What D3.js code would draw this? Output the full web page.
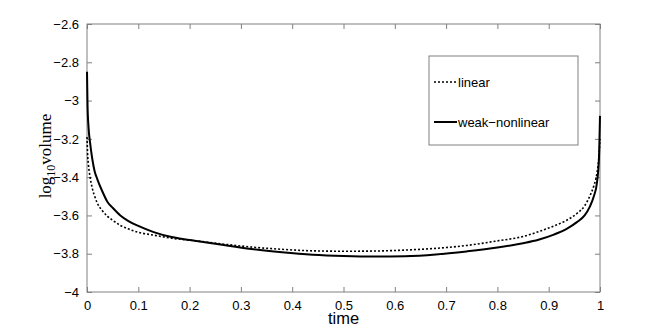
<!DOCTYPE html>
<html>
<head>
<meta charset="utf-8">
<script src="https://cdn.jsdelivr.net/npm/d3@7"></script>
<style>
  body { margin: 0; background: #fff; }
  text { font-family: "Liberation Sans", Arial, sans-serif; }
</style>
</head>
<body>
<svg id="chart" width="664" height="328"></svg>
<script>
// time samples (dense near both ends where curves blow up)
var times = [0, 0.001, 0.003, 0.006, 0.01, 0.015, 0.02, 0.03, 0.04, 0.05, 0.065, 0.08, 0.1, 0.13, 0.165,
             0.21, 0.26, 0.32, 0.38, 0.44, 0.5, 0.56, 0.62, 0.68, 0.74, 0.8, 0.85, 0.88, 0.91, 0.935,
             0.955, 0.97, 0.98, 0.988, 0.994, 0.998, 1];
var linear = [-3.19, -3.27, -3.34, -3.40, -3.455, -3.50, -3.535, -3.575, -3.605, -3.625, -3.652, -3.67, -3.688, -3.703, -3.719,
              -3.732, -3.748, -3.765, -3.777, -3.785, -3.787, -3.786, -3.781, -3.772, -3.757, -3.733, -3.71, -3.685, -3.655, -3.625,
              -3.59, -3.55, -3.50, -3.445, -3.38, -3.29, -3.2];
var weakNonlinear = [-2.85, -3.02, -3.14, -3.22, -3.30, -3.37, -3.41, -3.475, -3.53, -3.56, -3.60, -3.628, -3.655, -3.687, -3.713,
                     -3.732, -3.752, -3.775, -3.792, -3.805, -3.812, -3.815, -3.813, -3.804, -3.788, -3.768, -3.745, -3.727, -3.70, -3.67,
                     -3.635, -3.60, -3.555, -3.50, -3.43, -3.30, -3.08];
var xTicks = [0, 0.1, 0.2, 0.3, 0.4, 0.5, 0.6, 0.7, 0.8, 0.9, 1];
var yTicks = [-4, -3.8, -3.6, -3.4, -3.2, -3, -2.8, -2.6];
var seriesNames = ["linear", "weak\u2212nonlinear"];

var margin = {top: 24, right: 64, bottom: 36, left: 87},
    width = 664 - margin.left - margin.right,
    height = 328 - margin.top - margin.bottom;

var svg = d3.select("#chart");
var g = svg.append("g")
    .attr("transform", "translate(" + margin.left + "," + margin.top + ")");

var x = d3.scaleLinear().domain([0, 1]).range([0, width]);
var y = d3.scaleLinear().domain([-4, -2.6]).range([height, 0]);

var fmt = function(d) { return String(d).replace("-", "\u2212"); };
var axisColor = "#808080";

function styleAxis(sel) {
  sel.select(".domain").remove();
  sel.selectAll("line").attr("stroke", axisColor);
  sel.selectAll("text").attr("fill", "#000").attr("font-size", 13)
    .attr("font-family", "Liberation Sans, Arial, sans-serif");
}

// bottom / left axes with inward ticks
g.append("g")
    .attr("transform", "translate(0," + height + ")")
    .call(d3.axisBottom(x).tickValues(xTicks).tickSizeInner(-5).tickSizeOuter(0)
          .tickPadding(9).tickFormat(fmt))
    .call(styleAxis);

g.append("g")
    .call(d3.axisLeft(y).tickValues(yTicks).tickSizeInner(-5).tickSizeOuter(0)
          .tickPadding(8).tickFormat(fmt))
    .call(styleAxis);

// top / right ticks, no labels
g.append("g")
    .call(d3.axisTop(x).tickValues(xTicks).tickSizeInner(-5).tickSizeOuter(0).tickFormat(""))
    .call(styleAxis);
g.append("g")
    .attr("transform", "translate(" + width + ",0)")
    .call(d3.axisRight(y).tickValues(yTicks).tickSizeInner(-5).tickSizeOuter(0).tickFormat(""))
    .call(styleAxis);

// box
g.append("rect")
    .attr("width", width)
    .attr("height", height)
    .attr("fill", "none")
    .attr("stroke", axisColor)
    .attr("stroke-width", 1);

// curves
var line = d3.line()
    .x(function(d) { return x(d[0]); })
    .y(function(d) { return y(d[1]); })
    .curve(d3.curveMonotoneX);

g.append("path")
    .datum(d3.zip(times, linear))
    .attr("fill", "none")
    .attr("stroke", "#000")
    .attr("stroke-width", 1.6)
    .attr("stroke-dasharray", "2,2")
    .attr("d", line);

g.append("path")
    .datum(d3.zip(times, weakNonlinear))
    .attr("fill", "none")
    .attr("stroke", "#000")
    .attr("stroke-width", 2)
    .attr("d", line);

// axis titles
svg.append("text")
    .attr("x", margin.left + width / 2)
    .attr("y", 324)
    .attr("text-anchor", "middle")
    .attr("font-size", 16.5)
    .text("time");

var ylab = svg.append("text")
    .attr("transform", "translate(51," + (margin.top + height / 2 - 2) + ") rotate(-90)")
    .attr("text-anchor", "middle")
    .attr("font-size", 17)
    .style("font-family", "Liberation Serif, serif");
ylab.append("tspan").text("log");
ylab.append("tspan").attr("font-size", 12).attr("dy", 4).text("10");
ylab.append("tspan").attr("dy", -4).text("volume");

// legend
var legend = svg.append("g").attr("transform", "translate(429,56)");
legend.append("rect")
    .attr("width", 149)
    .attr("height", 89)
    .attr("fill", "#fff")
    .attr("stroke", axisColor);

var entries = legend.selectAll(".entry")
    .data(seriesNames)
  .enter().append("g")
    .attr("class", "entry")
    .attr("transform", function(d, i) { return "translate(5," + (26 + i * 40) + ")"; });

entries.append("line")
    .attr("x1", 0).attr("x2", 23)
    .attr("stroke", "#000")
    .attr("stroke-width", function(d, i) { return i ? 2 : 1.6; })
    .attr("stroke-dasharray", function(d, i) { return i ? null : "2,2"; });

entries.append("text")
    .attr("x", 24)
    .attr("dy", "0.35em")
    .attr("font-size", 13)
    .text(function(d) { return d; });
</script>
</body>
</html>
